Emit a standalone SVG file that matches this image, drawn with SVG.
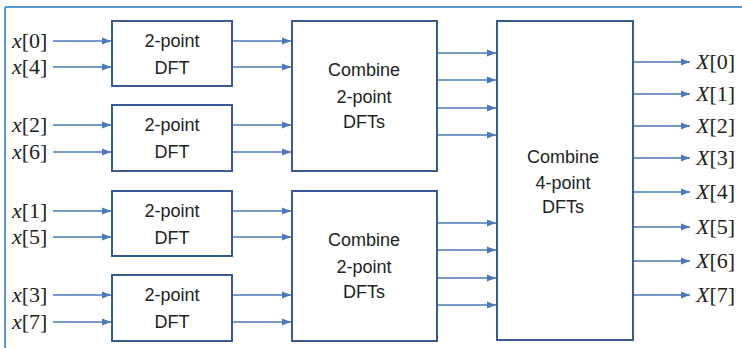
<svg xmlns="http://www.w3.org/2000/svg" width="742" height="348" viewBox="0 0 742 348">
<style>
.box{fill:#ffffff;stroke:#3a5a93;stroke-width:2}
.lbl{font-family:"Liberation Sans",Arial,sans-serif;font-size:18px;fill:#222;text-anchor:middle}
.sig{font-family:"Liberation Serif","Times New Roman",serif;font-size:22px;fill:#222}
.sig tspan.i{font-style:italic}
.arr{stroke:#4a78b8;stroke-width:1.6;fill:none;marker-end:url(#ah)}
</style>
<defs>
<marker id="ah" markerWidth="10" markerHeight="8" refX="9" refY="4" orient="auto" markerUnits="userSpaceOnUse">
<path d="M0,0.5 L9,4 L0,7.5 Z" fill="#4a78b8"/>
</marker>
</defs>
<rect width="742" height="348" fill="#ffffff"/>
<g id="frame">
<line x1="5" y1="7" x2="742" y2="7" stroke="#5b9bd5" stroke-width="2"/>
<line x1="5" y1="7" x2="5" y2="348" stroke="#5b9bd5" stroke-width="2"/>
</g>
<g id="connectors">
<line class="arr" x1="53" y1="41" x2="111" y2="41"/>
<line class="arr" x1="53" y1="67" x2="111" y2="67"/>
<line class="arr" x1="53" y1="125" x2="111" y2="125"/>
<line class="arr" x1="53" y1="152" x2="111" y2="152"/>
<line class="arr" x1="53" y1="211" x2="111" y2="211"/>
<line class="arr" x1="53" y1="237" x2="111" y2="237"/>
<line class="arr" x1="53" y1="295" x2="111" y2="295"/>
<line class="arr" x1="53" y1="322" x2="111" y2="322"/>
<line class="arr" x1="233" y1="41" x2="291" y2="41"/>
<line class="arr" x1="233" y1="67" x2="291" y2="67"/>
<line class="arr" x1="233" y1="125" x2="291" y2="125"/>
<line class="arr" x1="233" y1="152" x2="291" y2="152"/>
<line class="arr" x1="233" y1="211" x2="291" y2="211"/>
<line class="arr" x1="233" y1="237" x2="291" y2="237"/>
<line class="arr" x1="233" y1="295" x2="291" y2="295"/>
<line class="arr" x1="233" y1="322" x2="291" y2="322"/>
<line class="arr" x1="438" y1="53" x2="496" y2="53"/>
<line class="arr" x1="438" y1="80" x2="496" y2="80"/>
<line class="arr" x1="438" y1="108" x2="496" y2="108"/>
<line class="arr" x1="438" y1="135" x2="496" y2="135"/>
<line class="arr" x1="438" y1="223" x2="496" y2="223"/>
<line class="arr" x1="438" y1="250" x2="496" y2="250"/>
<line class="arr" x1="438" y1="278" x2="496" y2="278"/>
<line class="arr" x1="438" y1="305" x2="496" y2="305"/>
<line class="arr" x1="634" y1="62" x2="690" y2="62"/>
<line class="arr" x1="634" y1="94" x2="690" y2="94"/>
<line class="arr" x1="634" y1="126" x2="690" y2="126"/>
<line class="arr" x1="634" y1="158" x2="690" y2="158"/>
<line class="arr" x1="634" y1="192" x2="690" y2="192"/>
<line class="arr" x1="634" y1="227" x2="690" y2="227"/>
<line class="arr" x1="634" y1="261" x2="690" y2="261"/>
<line class="arr" x1="634" y1="295" x2="690" y2="295"/>
</g>
<g id="dft1"><rect class="box" x="112" y="21" width="120" height="65"/><text class="lbl" x="172" y="47">2-point</text><text class="lbl" x="172" y="74">DFT</text></g>
<g id="dft2"><rect class="box" x="112" y="105" width="120" height="66"/><text class="lbl" x="172" y="131">2-point</text><text class="lbl" x="172" y="158">DFT</text></g>
<g id="dft3"><rect class="box" x="112" y="191" width="120" height="65"/><text class="lbl" x="172" y="217">2-point</text><text class="lbl" x="172" y="244">DFT</text></g>
<g id="dft4"><rect class="box" x="112" y="275" width="120" height="66"/><text class="lbl" x="172" y="301">2-point</text><text class="lbl" x="172" y="328">DFT</text></g>
<g id="comb1"><rect class="box" x="292" y="21" width="145" height="150"/><text class="lbl" x="364" y="76">Combine</text><text class="lbl" x="364" y="103">2-point</text><text class="lbl" x="364" y="128">DFTs</text></g>
<g id="comb2"><rect class="box" x="292" y="191" width="145" height="150"/><text class="lbl" x="364" y="246">Combine</text><text class="lbl" x="364" y="273">2-point</text><text class="lbl" x="364" y="298">DFTs</text></g>
<g id="comb4"><rect class="box" x="497" y="21" width="136" height="319"/><text class="lbl" x="563" y="163">Combine</text><text class="lbl" x="563" y="189">4-point</text><text class="lbl" x="563" y="213">DFTs</text></g>
<g id="inputs">
<text class="sig" x="12" y="48" font-size="23"><tspan class="i">x</tspan>[0]</text>
<text class="sig" x="12" y="74" font-size="23"><tspan class="i">x</tspan>[4]</text>
<text class="sig" x="12" y="132" font-size="23"><tspan class="i">x</tspan>[2]</text>
<text class="sig" x="12" y="159" font-size="23"><tspan class="i">x</tspan>[6]</text>
<text class="sig" x="12" y="218" font-size="23"><tspan class="i">x</tspan>[1]</text>
<text class="sig" x="12" y="244" font-size="23"><tspan class="i">x</tspan>[5]</text>
<text class="sig" x="12" y="302" font-size="23"><tspan class="i">x</tspan>[3]</text>
<text class="sig" x="12" y="329" font-size="23"><tspan class="i">x</tspan>[7]</text>
</g>
<g id="outputs">
<text class="sig" x="696" y="69"><tspan class="i">X</tspan>[0]</text>
<text class="sig" x="696" y="101"><tspan class="i">X</tspan>[1]</text>
<text class="sig" x="696" y="133"><tspan class="i">X</tspan>[2]</text>
<text class="sig" x="696" y="165"><tspan class="i">X</tspan>[3]</text>
<text class="sig" x="696" y="199"><tspan class="i">X</tspan>[4]</text>
<text class="sig" x="696" y="234"><tspan class="i">X</tspan>[5]</text>
<text class="sig" x="696" y="268"><tspan class="i">X</tspan>[6]</text>
<text class="sig" x="696" y="302"><tspan class="i">X</tspan>[7]</text>
</g>
</svg>
